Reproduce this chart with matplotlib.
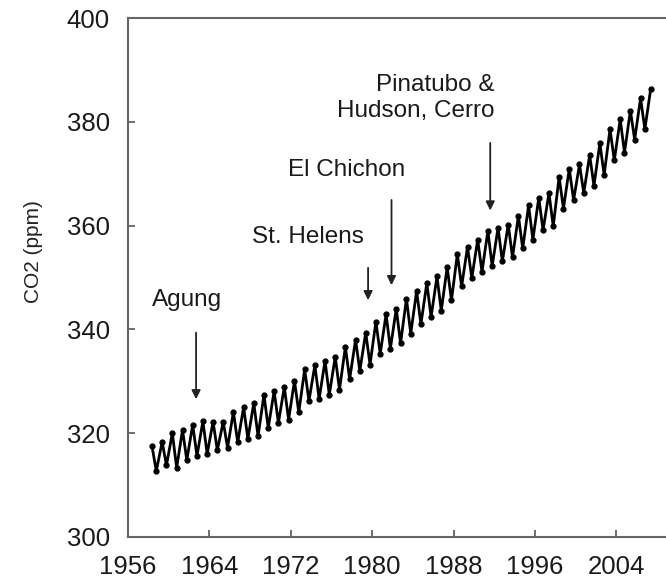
import numpy as np
import matplotlib
matplotlib.use('Agg')
import matplotlib.pyplot as plt

plt.rcParams['font.family'] = ['Liberation Sans', 'DejaVu Sans']

# Mauna Loa CO2: seasonal high (May) and low (Oct) per year, ppm
years = list(range(1958, 2008))
co2_high = [317.5, 318.3, 320.0, 320.6, 321.6, 322.3, 322.2, 322.2, 324.1, 325.0,
            325.8, 327.4, 328.1, 328.9, 330.1, 332.3, 333.1, 333.9, 334.7, 336.6,
            338.0, 339.4, 341.5, 342.9, 344.0, 345.9, 347.4, 348.9, 350.2, 352.0,
            354.5, 355.9, 357.3, 359.0, 359.6, 360.2, 361.9, 363.9, 365.4, 366.3,
            369.4, 371.0, 371.8, 373.6, 375.9, 378.6, 380.5, 382.2, 384.6, 386.4]
co2_low = [312.7, 313.8, 313.3, 314.8, 315.6, 316.0, 316.7, 317.2, 318.2, 318.9,
           319.4, 321.0, 322.0, 322.6, 324.0, 326.2, 326.6, 327.4, 328.4, 330.4,
           332.0, 333.2, 335.3, 336.3, 337.3, 339.2, 341.0, 342.4, 343.6, 345.6,
           348.3, 349.9, 351.1, 352.2, 353.1, 353.9, 355.6, 357.3, 359.1, 359.9,
           363.3, 364.9, 366.3, 367.7, 369.8, 372.6, 374.1, 376.6, 378.6]

# interleave highs (May) and lows (Oct)
t = []
v = []
for i, y in enumerate(years):
    t.append(y + 0.37)
    v.append(co2_high[i])
    if i < len(co2_low):
        t.append(y + 0.79)
        v.append(co2_low[i])

fig = plt.figure(figsize=(6.66, 5.88), dpi=100)
ax = fig.add_axes([0.192, 0.087, 0.81, 0.882])

ax.plot(t, v, color='black', lw=2.0, marker='o', ms=3.5)

ax.set_xlim(1956, 2009)
ax.set_ylim(300, 400)
ax.set_xticks([1956, 1964, 1972, 1980, 1988, 1996, 2004])
ax.set_yticks([300, 320, 340, 360, 380, 400])
ax.tick_params(direction='in', length=5, width=1.2, labelsize=18.5,
               colors='#555555', labelcolor='#1a1a1a', pad=13)
for s in ax.spines.values():
    s.set_color('#666666')
    s.set_linewidth(1.5)
ax.set_ylabel('CO2 (ppm)', fontsize=15, color='#222222')
ax.yaxis.set_label_coords(-0.158, 0.55)

txt = dict(fontsize=17.5, color='#1a1a1a')
arr = dict(arrowstyle='-|>', lw=1.3, color='#222222', mutation_scale=13)

ax.text(1961.8, 345.7, 'Agung', ha='center', va='center', **txt)
ax.annotate('', xy=(1962.7, 326.0), xytext=(1962.7, 339.9), arrowprops=arr)

ax.text(1973.7, 357.8, 'St. Helens', ha='center', va='center', **txt)
ax.annotate('', xy=(1979.6, 345.1), xytext=(1979.6, 352.4), arrowprops=arr)

ax.text(1977.5, 370.7, 'El Chichon', ha='center', va='center', **txt)
ax.annotate('', xy=(1981.9, 348.0), xytext=(1981.9, 365.5), arrowprops=arr)

ax.text(1992.0, 384.6, 'Pinatubo &\nHudson, Cerro', ha='right', va='center',
        multialignment='right', linespacing=1.2, **txt)
ax.annotate('', xy=(1991.6, 362.4), xytext=(1991.6, 376.5), arrowprops=arr)

fig.savefig('out.png', dpi=100)
